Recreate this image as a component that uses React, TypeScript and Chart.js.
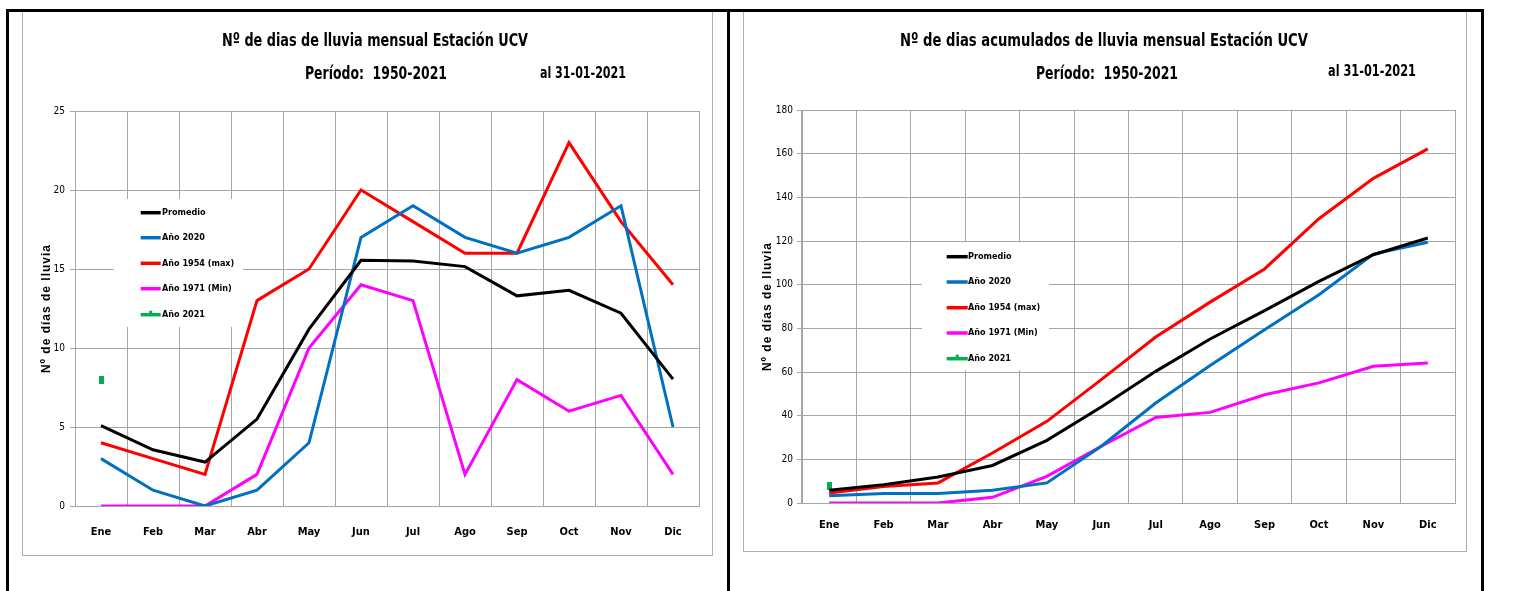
import React, { useEffect, useLayoutEffect, useRef } from "react";
import { Chart, registerables } from "chart.js";

Chart.register(...registerables);

// ---------- DATA ----------
const months = ["Ene", "Feb", "Mar", "Abr", "May", "Jun", "Jul", "Ago", "Sep", "Oct", "Nov", "Dic"];

// Monthly rain days
const promedio = [5.08, 3.56, 2.78, 5.5, 11.19, 15.55, 15.5, 15.15, 13.3, 13.65, 12.2, 8.03];
const anio2020 = [3, 1, 0, 1, 4, 17, 19, 17, 16, 17, 19, 5];
const anio1954 = [4, 3, 2, 13, 15, 20, 18, 16, 16, 23, 18, 14];
const anio1971 = [0, 0, 0, 2, 10, 14, 13, 2, 8, 6, 7, 2];
const anio2021 = [8, null, null, null, null, null, null, null, null, null, null, null];

// Accumulated rain days
const promedioAcum = [5.8, 8.4, 11.9, 17.2, 28.7, 44, 60.3, 75.1, 88.1, 101.5, 113.7, 121.4];
const anio2020Acum = [3.3, 4.3, 4.3, 5.8, 9.2, 26, 45.8, 63, 79.4, 95.4, 114, 119.4];
const anio1954Acum = [4.6, 7.6, 9.2, 22.9, 37.4, 56.5, 76, 92, 107.2, 130.2, 148.7, 162.2];
const anio1971Acum = [0, 0, 0, 2.6, 12.2, 26, 39.2, 41.5, 49.6, 55, 62.6, 64.1];
const anio2021Acum = [7.9, null, null, null, null, null, null, null, null, null, null, null];

const seriesLabels = ["Promedio", "Año 2020", "Año 1954 (max)", "Año 1971 (Min)", "Año 2021"];
const seriesColors = ["#000000", "#0070C0", "#FF0000", "#FF00FF", "#00B050"];

const yMensual = { max: 25, step: 5 };
const yAcum = { max: 180, step: 20 };

const title1 = "Nº de dias de lluvia mensual Estación UCV";
const title2 = "Nº de dias acumulados de lluvia mensual Estación UCV";
const periodo = "Período:  1950-2021";
const fecha = "al 31-01-2021";
const yTitle = "Nº de días de lluvia";

// ---------- HELPERS ----------
const NARROW = "'Liberation Sans Narrow', 'Arial Narrow', 'DejaVu Sans Condensed', sans-serif";
const GRID = "#a6a6a6";

function makeMarker(w: number, h: number, color: string) {
  const c = document.createElement("canvas");
  c.width = w;
  c.height = h;
  const ctx = c.getContext("2d")!;
  ctx.fillStyle = color;
  ctx.fillRect(0, 0, w, h);
  return c;
}

const boxLegend = {
  id: "boxLegend",
  beforeDatasetsDraw(chart: any, _args: any, opts: any) {
    const { ctx } = chart;
    const { box, rows, lineX0, lineX1, textX } = opts;
    ctx.save();
    ctx.fillStyle = "#ffffff";
    ctx.fillRect(box.x, box.y, box.w, box.h);
    chart.data.datasets.forEach((ds: any, i: number) => {
      const y = rows[i];
      ctx.strokeStyle = ds.legendColor;
      ctx.lineWidth = 3.5;
      ctx.beginPath();
      ctx.moveTo(lineX0, y);
      ctx.lineTo(lineX1, y);
      ctx.stroke();
      if (ds.isMarker) {
        ctx.fillStyle = ds.legendColor;
        ctx.fillRect((lineX0 + lineX1) / 2 - 1.5, y - 4, 3, 5);
      }
      ctx.fillStyle = "#000";
      ctx.font = `bold 9px ${NARROW}`;
      ctx.textBaseline = "middle";
      ctx.textAlign = "left";
      ctx.fillText(ds.label, textX, y);
    });
    ctx.restore();
  },
  afterDraw(chart: any, _args: any, opts: any) {
    // rotated y-axis title with letter spacing
    const { ctx, chartArea } = chart;
    ctx.save();
    ctx.translate(opts.yTitleX, (chartArea.top + chartArea.bottom) / 2);
    ctx.rotate(-Math.PI / 2);
    ctx.fillStyle = "#000";
    ctx.font = "bold 12px 'Liberation Sans', Arial, sans-serif";
    try {
      (ctx as any).letterSpacing = "1px";
    } catch (e) {}
    ctx.textAlign = "center";
    ctx.textBaseline = "middle";
    ctx.fillText(yTitle, 0, 0);
    ctx.restore();
  },
};

type Cfg = {
  data: (number | null)[][];
  yMax: number;
  yStep: number;
  yAxisWidth: number;
  xAxisHeight: number;
  padRight: number;
  padTop: number;
  xTickLen: number;
  yTickPad: number;
  legend: any;
};

function LineChart({ w, h, cfg, style }: { w: number; h: number; cfg: Cfg; style: React.CSSProperties }) {
  const ref = useRef<HTMLCanvasElement>(null);
  useEffect(() => {
    const marker = makeMarker(5, 8, seriesColors[4]);
    const datasets = cfg.data.map((d, i) => {
      const isMarker = i === 4;
      return {
        label: seriesLabels[i],
        data: d,
        borderColor: seriesColors[i],
        backgroundColor: seriesColors[i],
        legendColor: seriesColors[i],
        isMarker,
        borderWidth: 3,
        showLine: !isMarker,
        pointRadius: isMarker ? 4 : 0,
        pointStyle: isMarker ? marker : "circle",
        pointHoverRadius: 0,
        tension: 0,
        spanGaps: false,
      };
    });
    const chart = new Chart(ref.current!, {
      type: "line",
      data: { labels: months, datasets: datasets as any },
      options: {
        animation: false,
        responsive: false,
        events: [],
        layout: { padding: { left: 0, right: cfg.padRight, top: cfg.padTop, bottom: 0 } },
        plugins: {
          legend: { display: false },
          title: { display: false },
          tooltip: { enabled: false },
          boxLegend: cfg.legend,
        } as any,
        scales: {
          x: {
            type: "category",
            offset: true,
            grid: {
              offset: true,
              color: GRID,
              lineWidth: 1,
              drawTicks: true,
              tickLength: cfg.xTickLen,
              tickColor: "rgba(0,0,0,0)",
            },
            border: { display: true, color: GRID },
            ticks: {
              color: "#000",
              padding: 3,
              maxRotation: 0,
              autoSkip: false,
              font: { family: NARROW, size: 11, weight: "bold" },
            },
            afterFit: (s: any) => {
              s.height = cfg.xAxisHeight;
            },
          },
          y: {
            min: 0,
            max: cfg.yMax,
            grid: { color: GRID, lineWidth: 1, drawTicks: true, tickLength: 5, tickColor: GRID },
            border: { display: true, color: GRID },
            ticks: {
              stepSize: cfg.yStep,
              color: "#000",
              padding: cfg.yTickPad,
              font: { family: NARROW, size: 10 },
            },
            title: { display: false },
            afterFit: (s: any) => {
              s.width = cfg.yAxisWidth;
            },
          },
        },
      },
      plugins: [boxLegend as any],
    });
    return () => chart.destroy();
  }, []);
  return <canvas ref={ref} width={w} height={h} style={{ position: "absolute", ...style }} />;
}

function FitText({ text, cx, cy, width, size }: { text: string; cx: number; cy: number; width: number; size: number }) {
  const ref = useRef<HTMLSpanElement>(null);
  useLayoutEffect(() => {
    const el = ref.current;
    if (!el) return;
    el.style.transform = "translate(-50%, -50%)";
    const wd = el.getBoundingClientRect().width;
    const s = wd > 0 ? width / wd : 1;
    el.style.transform = `translate(-50%, -50%) scaleX(${s})`;
  }, []);
  return (
    <span
      ref={ref}
      style={{
        position: "absolute",
        left: cx,
        top: cy,
        whiteSpace: "pre",
        fontFamily: NARROW,
        fontWeight: "bold",
        fontSize: size,
        color: "#000",
        lineHeight: 1,
        transform: "translate(-50%, -50%)",
      }}
    >
      {text}
    </span>
  );
}

export default function App() {
  const leftCfg: Cfg = {
    data: [promedio, anio2020, anio1954, anio1971, anio2021],
    yMax: yMensual.max,
    yStep: yMensual.step,
    yAxisWidth: 52,
    xAxisHeight: 49,
    padRight: 13,
    padTop: 99,
    xTickLen: 17,
    yTickPad: 5,
    legend: {
      box: { x: 91, y: 187, w: 129, h: 128 },
      rows: [200.7, 225.7, 251.3, 276.7, 302.7],
      lineX0: 117.7,
      lineX1: 137.7,
      textX: 139,
      yTitleX: 24,
    },
  };
  const rightCfg: Cfg = {
    data: [promedioAcum, anio2020Acum, anio1954Acum, anio1971Acum, anio2021Acum],
    yMax: yAcum.max,
    yStep: yAcum.step,
    yAxisWidth: 58,
    xAxisHeight: 48,
    padRight: 11,
    padTop: 98,
    xTickLen: 13,
    yTickPad: 4,
    legend: {
      box: { x: 178, y: 230, w: 127, h: 128 },
      rows: [244.7, 270, 295.7, 321, 346.7],
      lineX0: 202.7,
      lineX1: 223.7,
      textX: 224,
      yTitleX: 24,
    },
  };
  const black = "#000";
  return (
    <div style={{ position: "absolute", left: 0, top: 0, width: 1517, height: 591, overflow: "hidden", background: "#fff" }}>
      {/* chart frames */}
      <div style={{ position: "absolute", left: 22, top: 11, width: 691, height: 545, border: "1px solid #b0b0b0", boxSizing: "border-box" }} />
      <div style={{ position: "absolute", left: 743, top: 11, width: 724, height: 541, border: "1px solid #b0b0b0", boxSizing: "border-box" }} />

      <LineChart w={689} h={543} cfg={leftCfg} style={{ left: 23, top: 12 }} />
      <LineChart w={722} h={539} cfg={rightCfg} style={{ left: 744, top: 12 }} />

      {/* titles */}
      <FitText text={title1} cx={375} cy={40} width={306} size={18} />
      <FitText text={periodo} cx={376} cy={73} width={142} size={18} />
      <FitText text={fecha} cx={583} cy={73} width={86} size={16} />

      <FitText text={title2} cx={1104} cy={40} width={408} size={18} />
      <FitText text={periodo} cx={1107} cy={73} width={142} size={18} />
      <FitText text={fecha} cx={1372} cy={71} width={88} size={16} />

      {/* table borders */}
      <div style={{ position: "absolute", left: 6, top: 9, width: 1478, height: 3, background: black }} />
      <div style={{ position: "absolute", left: 6, top: 9, width: 3, height: 582, background: black }} />
      <div style={{ position: "absolute", left: 727, top: 9, width: 3, height: 582, background: black }} />
      <div style={{ position: "absolute", left: 1481, top: 9, width: 3, height: 582, background: black }} />
    </div>
  );
}
